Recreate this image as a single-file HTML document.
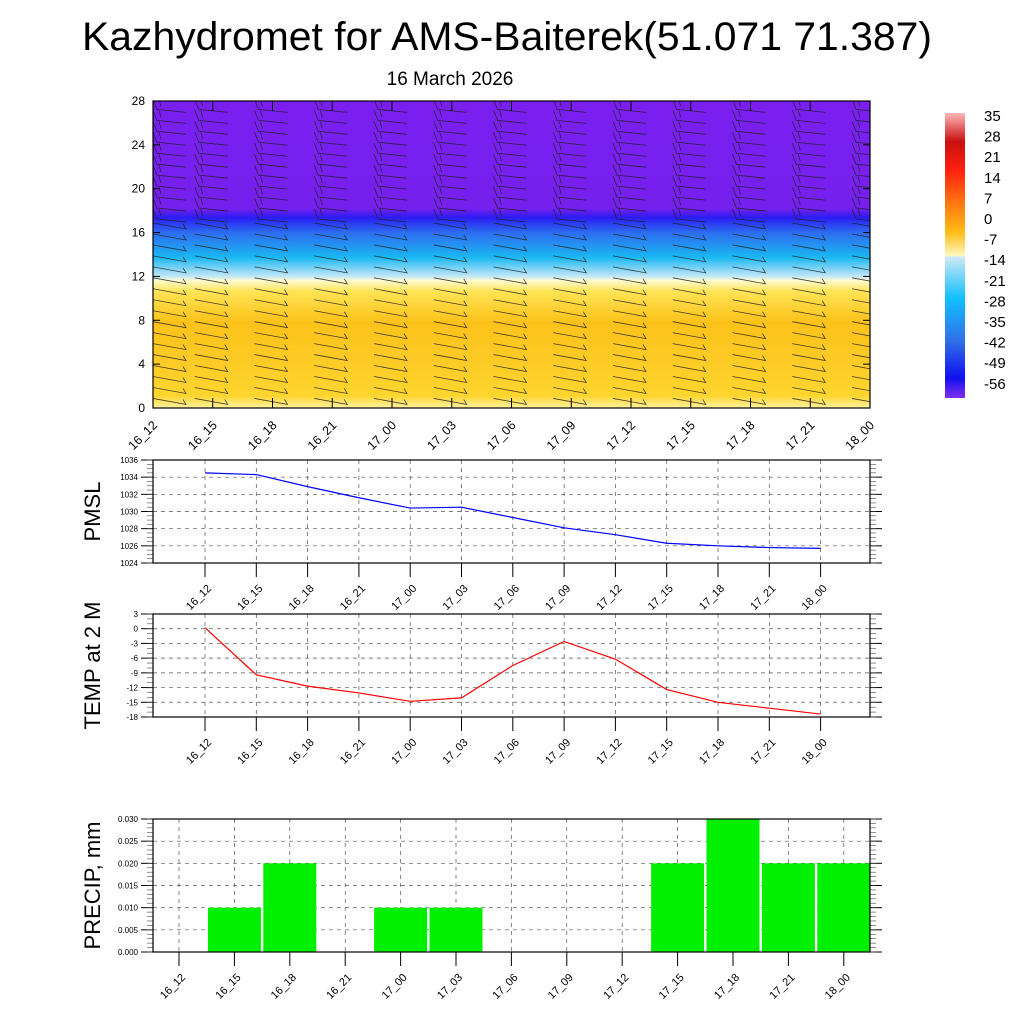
<!DOCTYPE html>
<html><head><meta charset="utf-8"><style>
body{margin:0;background:#fff}
svg{display:block;font-family:"Liberation Sans",sans-serif}
</style></head><body>
<svg id="c" width="1024" height="1024" viewBox="0 0 1024 1024">
<defs>
<clipPath id="clipTop"><rect x="153" y="101" width="717" height="307"/></clipPath>
<linearGradient id="tg" x1="0" y1="0" x2="0" y2="1">
<stop offset="0" stop-color="#7a1ff0"/>
<stop offset="0.35" stop-color="#7620ee"/>
<stop offset="0.38" stop-color="#2a1cf2"/>
<stop offset="0.43" stop-color="#2d6ef0"/>
<stop offset="0.51" stop-color="#1ab8f2"/>
<stop offset="0.57" stop-color="#bfe6f8"/>
<stop offset="0.585" stop-color="#fffbd0"/>
<stop offset="0.62" stop-color="#ffe455"/>
<stop offset="0.72" stop-color="#fcc21a"/>
<stop offset="0.85" stop-color="#fdcb26"/>
<stop offset="0.96" stop-color="#ffd52e"/>
<stop offset="1" stop-color="#fff3a0"/>
</linearGradient>
<linearGradient id="cb" x1="0" y1="0" x2="0" y2="1">
<stop offset="0" stop-color="#ffb8b8"/>
<stop offset="0.1" stop-color="#c81010"/>
<stop offset="0.2" stop-color="#ff2010"/>
<stop offset="0.32" stop-color="#ff7a10"/>
<stop offset="0.42" stop-color="#ffbe18"/>
<stop offset="0.5" stop-color="#fff8c0"/>
<stop offset="0.505" stop-color="#d0e8f4"/>
<stop offset="0.65" stop-color="#10c0ff"/>
<stop offset="0.8" stop-color="#3070e8"/>
<stop offset="0.93" stop-color="#1010f0"/>
<stop offset="1" stop-color="#8030f0"/>
</linearGradient>
</defs>
<text x="507" y="50" font-size="40" text-anchor="middle" textLength="850" lengthAdjust="spacingAndGlyphs">Kazhydromet for AMS-Baiterek(51.071 71.387)</text>
<text x="450" y="85" font-size="19" text-anchor="middle">16 March 2026</text>
<rect x="153" y="101" width="717" height="307" fill="url(#tg)"/>
<g id="barbs" clip-path="url(#clipTop)"></g>
<rect x="153" y="101" width="717" height="307" fill="none" stroke="#000" stroke-width="1.2"/>
<g id="top-axes"></g>
<rect x="945" y="113" width="20" height="285" fill="url(#cb)"/>
<g id="cbl"></g>
<g id="p1"></g>
<g id="p2"></g>
<g id="p3"></g>
</svg>
<script>
const NS="http://www.w3.org/2000/svg";
const times=["16_12","16_15","16_18","16_21","17_00","17_03","17_06","17_09","17_12","17_15","17_18","17_21","18_00"];
const pmsl=[1034.5,1034.3,1032.9,1031.6,1030.4,1030.5,1029.3,1028.1,1027.3,1026.3,1026.0,1025.8,1025.7];
const temp=[0.2,-9.4,-11.7,-13.1,-14.8,-14.1,-7.5,-2.6,-6.2,-12.4,-15.0,-16.2,-17.4];
const precip=[0,0.01,0.02,0,0.01,0.01,0,0,0,0.02,0.03,0.02,0.02];
const topTicks=[0,4,8,12,16,20,24,28];
const cbLabels=["35","28","21","14","7","0","-7","-14","-21","-28","-35","-42","-49","-56"];
const pmslTicks=[1024,1026,1028,1030,1032,1034,1036];
const tempTicks=[-18,-15,-12,-9,-6,-3,0,3];
const precTicks=["0.000","0.005","0.010","0.015","0.020","0.025","0.030"];
function el(p,t,a,txt){const e=document.createElementNS(NS,t);for(const k in a)e.setAttribute(k,a[k]);if(txt!==undefined)e.textContent=txt;p.appendChild(e);return e;}
const ta=document.getElementById('top-axes'),bg=document.getElementById('barbs');
const tx=i=>153+i*717/12, ty=v=>408-v*307/28;
topTicks.forEach(v=>{const t=el(ta,'text',{x:145,y:ty(v)+4,'font-size':12,'text-anchor':'end'},v);

el(ta,'line',{x1:153,x2:160,y1:ty(v),y2:ty(v),stroke:'#000'});el(ta,'line',{x1:863,x2:870,y1:ty(v),y2:ty(v),stroke:'#000'});});
times.forEach((s,i)=>{const x=tx(i);
el(ta,'line',{x1:x,x2:x,y1:408,y2:398,stroke:'#000'});el(ta,'line',{x1:x,x2:x,y1:101,y2:111,stroke:'#000'});
const t=el(ta,'text',{transform:`translate(${x+5},${426}) rotate(-45)`,'font-size':12.5,'text-anchor':'end'},s);
});
for(let i=0;i<13;i++){for(let l=0;l<28;l++){const y=ty(l+0.6);
const up=l>=17;const x0=(i==0?153:tx(i)-18),x1=x0+33;
el(bg,'path',{d:up?`M${x0} ${y-6}L${x0+4} ${y+4}L${x1} ${y+7}M${x0+6} ${y-6}l2 7`:`M${x0} ${y-3}L${x1} ${y+3}l-3 -5`,stroke:'#222','stroke-width':0.8,fill:'none',opacity:0.85});}}
const cl=document.getElementById('cbl');
cbLabels.forEach((s,i)=>{const t=el(cl,'text',{x:984,y:121+i*20.6,'font-size':15},s);
});
function panel(g,top,bot,ticks,vals,color,lab,minorN,isBar){
 const L=153,R=870;const lo=+ticks[0],hi=+ticks[ticks.length-1];
 const y=v=>bot-(v-lo)/(hi-lo)*(bot-top);
 const cx=isBar?(i=>L+26+i*55.4):(i=>205+i*51.3);
 ticks.forEach(v=>{const yy=y(+v);
  el(g,'line',{x1:L,x2:R,y1:yy,y2:yy,stroke:'#555','stroke-dasharray':'4,4','stroke-width':0.7});
  el(g,'line',{x1:L-12,x2:L,y1:yy,y2:yy,stroke:'#000'});el(g,'line',{x1:R,x2:R+12,y1:yy,y2:yy,stroke:'#000'});
  const t=el(g,'text',{x:L-15,y:yy+3,'font-size':8,'text-anchor':'end'},v);
  });
 const step=(bot-top)/((ticks.length-1)*minorN);
 for(let k=0;k<=(ticks.length-1)*minorN;k++){const yy=top+k*step;el(g,'line',{x1:L-6,x2:L,y1:yy,y2:yy,stroke:'#444','stroke-width':0.6});el(g,'line',{x1:R,x2:R+6,y1:yy,y2:yy,stroke:'#444','stroke-width':0.6});}
 times.forEach((s,i)=>{const x=cx(i);
  el(g,'line',{x1:x,x2:x,y1:top,y2:bot,stroke:'#555','stroke-dasharray':'4,4','stroke-width':0.7});
  el(g,'line',{x1:x,x2:x,y1:bot,y2:bot+14,stroke:'#000'});
  const t=el(g,'text',{transform:`translate(${x+7},${bot+26}) rotate(-45)`,'font-size':11,'text-anchor':'end'},s);
  });
 if(isBar){vals.forEach((v,i)=>{if(v>0){const r=el(g,'rect',{x:cx(i)-26.5,y:y(v),width:53,height:bot-y(v),fill:'#00f000'});
   }});}
 else{const p=el(g,'polyline',{points:vals.map((v,i)=>cx(i)+','+y(v)).join(' '),fill:'none',stroke:color,'stroke-width':1.2});
  }
 el(g,'rect',{x:L,y:top,width:R-L,height:bot-top,fill:'none',stroke:'#000','stroke-width':1.2});
 const t=el(g,'text',{transform:`translate(100,${(top+bot)/2}) rotate(-90)`,'font-size':22,'text-anchor':'middle'},lab);
 
}
panel(document.getElementById('p1'),460,563,pmslTicks,pmsl,'#0000ff','PMSL',4,false);
panel(document.getElementById('p2'),614,717,tempTicks,temp,'#ff0000','TEMP at 2 M',3,false);
panel(document.getElementById('p3'),819,952,precTicks,precip,'#0f0','PRECIP, mm',5,true);
</script>
</body></html>
